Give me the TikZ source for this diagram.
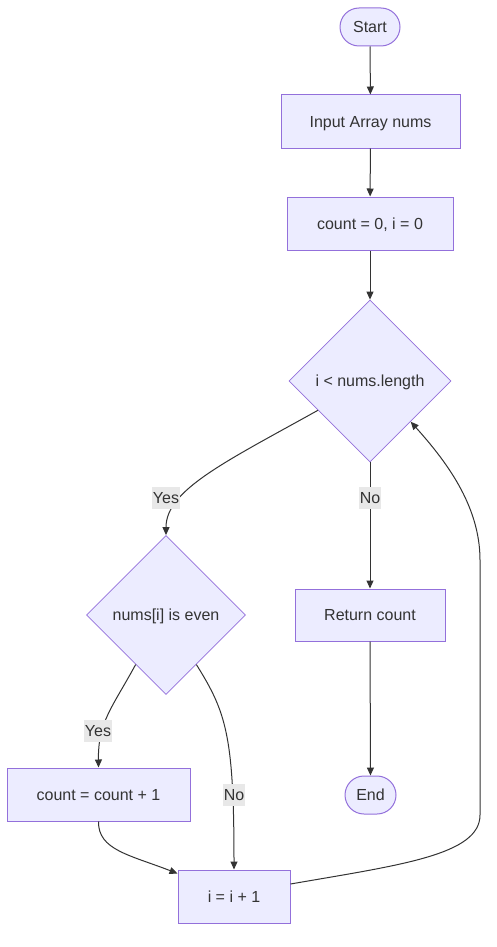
\documentclass[tikz,border=0pt]{standalone}
\usepackage{fontspec}
\setmainfont{Liberation Sans}
\usetikzlibrary{shapes.geometric,arrows.meta,calc}
\definecolor{nodefill}{HTML}{ECECFF}
\definecolor{nodeline}{HTML}{9370DB}
\definecolor{txt}{HTML}{333333}
\definecolor{labelbg}{HTML}{E8E8E8}
\begin{document}
\begin{tikzpicture}[x=1pt,y=-1pt,
  every node/.style={font=\fontsize{16}{19}\selectfont, text=txt, text height=11.5pt, text depth=0pt},
  procbox/.style={draw=nodeline, fill=nodefill, line width=1pt, rectangle, inner sep=0pt},
  termbox/.style={draw=nodeline, fill=nodefill, line width=1pt, rectangle, rounded corners=19pt, minimum height=38pt, inner sep=0pt},
  decbox/.style={draw=nodeline, fill=nodefill, line width=0.8pt, diamond, aspect=1, inner sep=0pt},
  flow/.style={draw=txt, line width=1pt, -{Triangle[length=8pt,width=7pt]}},
  edgelabel/.style={fill=labelbg, inner xsep=0.5pt, inner ysep=0pt, minimum height=22pt}
]
\useasboundingbox (0,0) rectangle (496,947);

\node[termbox, minimum width=60pt] (start) at (370,27) {Start};
\node[procbox, minimum width=179pt, minimum height=53pt] (input) at (370.5,121.5) {Input Array nums};
\node[procbox, minimum width=166pt, minimum height=53pt] (init) at (370,223.5) {count = 0, i = 0};
\node[decbox, minimum width=162pt, minimum height=162pt] (loop) at (370,381) {i < nums.length};
\node[decbox, minimum width=159pt, minimum height=159pt] (even) at (166,615) {nums[i] is even};
\node[procbox, minimum width=150pt, minimum height=52pt] (ret) at (370,615) {Return count};
\node[termbox, minimum width=51pt] (end) at (370.5,795) {End};
\node[procbox, minimum width=183pt, minimum height=53pt] (inc) at (98.5,794.5) {count = count + 1};
\node[procbox, minimum width=112pt, minimum height=53pt] (step1) at (234,896.5) {i = i + 1};

\draw[flow] (start) -- (input);
\draw[flow] (input) -- (init);
\draw[flow] (init) -- (loop);

% loop -> even (Yes)
\draw[flow] ($(loop.west)!0.36!(loop.south)$) .. controls (225,462) and (166,490) .. (even.north);
\node[edgelabel] (lyes1) at (166,498) {Yes};

% loop -> ret (No)
\draw[flow] (loop.south) -- (ret.north);
\node[edgelabel] (lno1) at (370,498) {No};

\draw[flow] (ret) -- (end);

% even -> inc (Yes)
\draw[flow] ($(even.west)!0.62!(even.south)$) .. controls (112,708) and (98,722) .. (inc.north);
\node[edgelabel] (lyes2) at (98,731) {Yes};

% even -> step1 (No)
\draw[flow] ($(even.south)!0.38!(even.east)$) .. controls (226,712) and (234,735) .. (step1.north);
\node[edgelabel] (lno2) at (234,795) {No};

% inc -> step1
\draw[flow] (inc.south) .. controls (98,850) and (130,855) .. ([yshift=-4pt]step1.north west);

% step1 -> loop
\draw[flow] ([yshift=12.5pt]step1.east) .. controls (400,865) and (480,855) .. (480,815) -- (480,560) .. controls (480,505) and (445,460) .. (loop.south east);
\end{tikzpicture}
\end{document}
